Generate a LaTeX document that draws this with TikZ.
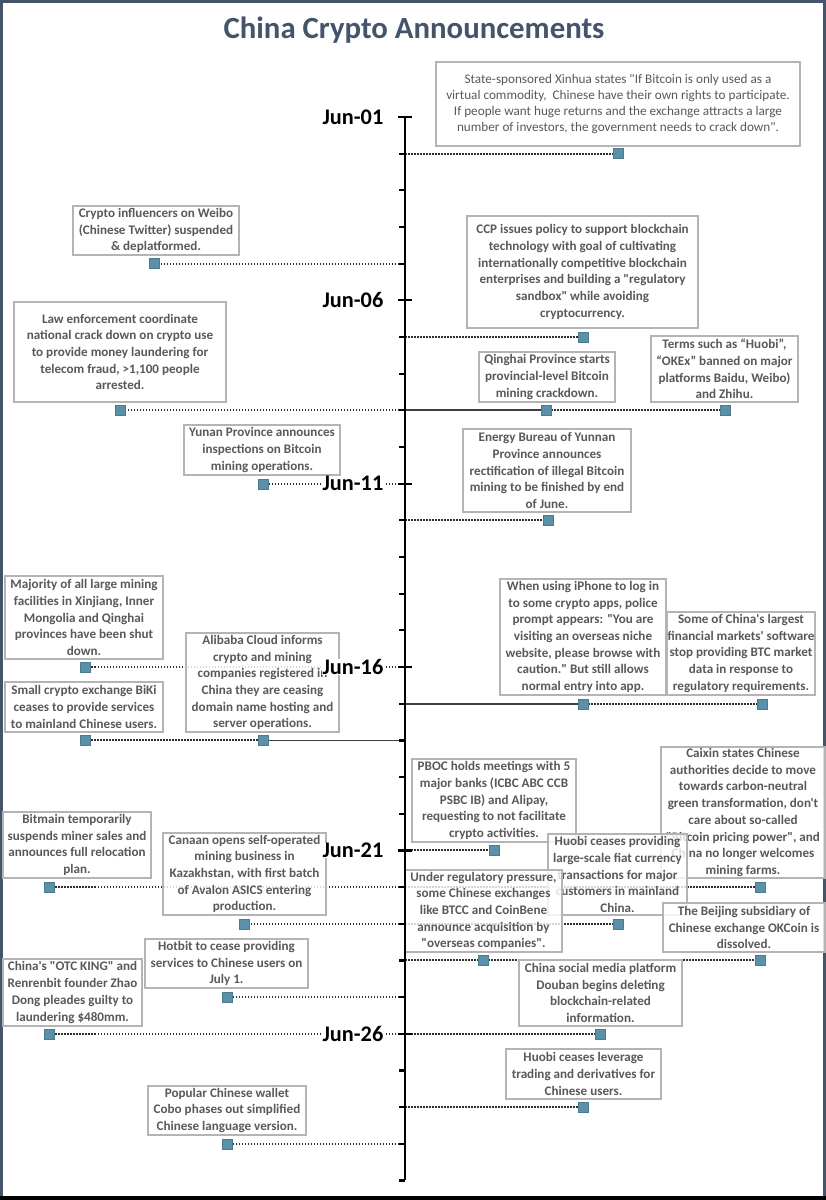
\documentclass[tikz,border=0pt]{standalone}
\usepackage{fontspec}
\setmainfont{Carlito}[Ligatures=TeXOff]
\usetikzlibrary{calc}
\definecolor{titlecol}{HTML}{44546A}
\definecolor{boxgray}{HTML}{B4B4B4}
\definecolor{txtgray}{HTML}{595959}
\definecolor{mkblue}{HTML}{5A91A8}
\definecolor{dotgray}{HTML}{2E2E2E}
\definecolor{solgray}{HTML}{3A4048}
\tikzset{
  evb/.style={draw=boxgray, line width=1.2pt, fill=white, fill opacity=0.8, text opacity=1, draw opacity=1,
    text=txtgray, font=\bfseries\fontsize{13.1}{16.7}\selectfont, align=center, inner sep=0pt},
  mk/.style={fill=mkblue, draw=mkblue!85!black, line width=0.4pt, minimum size=10pt, inner sep=0pt},
  mkghost/.style={minimum size=10pt, inner sep=0pt},
  dotln/.style={line width=1.9pt, dash pattern=on 1.5pt off 1.5pt, color=dotgray},
  solidln/.style={line width=1.8pt, color=solgray},
  datelbl/.style={font=\bfseries\fontsize{22.3}{26}\selectfont, text=black, fill=white, inner sep=0.5pt, anchor=east},
  axisln/.style={line width=2.6pt, color=black},
  tickln/.style={line width=2.2pt, color=black},
}
\begin{document}
\begin{tikzpicture}[x=1pt,y=-1pt]
\useasboundingbox (0,0) rectangle (826,1200);
\fill[white] (0,0) rectangle (826,1200);
% frame
\draw[titlecol, line width=3pt] (1.5,1.5) rectangle (824.5,1198.5);
\fill[black] (0,1196) rectangle (826,1200);
% title
\node[font=\bfseries\fontsize{30.8}{36}\selectfont, text=titlecol] (title) at (414,30) {China Crypto Announcements};
% axis day coordinates
\foreach \d in {1,...,30}{
  \pgfmathsetmacro\yy{117+36.67*(\d-1)}
  \coordinate (d\d) at (405,\yy);
}
% marker positions
\foreach \i/\x/\d in {1/618/2,2/154/5,3/583/7,4/120/9,5/546/9,6/725/9,7/263/11,8/548/12,9/85/16,10/263/18,11/85/18,12/583/17,13/762/17,14/494/21,15/49/22,16/760/22,17/244/23,18/618/23,19/483/24,20/760/24,21/227/25,22/49/26,23/600/26,24/583/28,25/227/29}{
  \pgfmathsetmacro\yy{117+36.67*(\d-1)}
  \node[mkghost] (m\i) at (\x,\yy) {};
}
% connectors
\draw[dotln] (d2) -- (m1);
\draw[dotln] (d5) -- (m2);
\draw[dotln] (d7) -- (m3);
\draw[dotln] (d9) -- (m4);
\draw[solidln] (d9) -- (m5);
\draw[dotln] (m5) -- (m6);
\draw[dotln] (d11) -- (m7);
\draw[dotln] (d12) -- (m8);
\draw[dotln] (d16) -- (m9);
\draw[solidln] (d18) -- (m10);
\draw[dotln] (m10) -- (m11);
\draw[solidln] (d17) -- (m12);
\draw[dotln] (m12) -- (m13);
\draw[dotln] (d21) -- (m14);
\draw[dotln] (d22) -- (m15);
\draw[dotln] (d22) -- (m16);
\draw[dotln] (d23) -- (m17);
\draw[dotln] (d23) -- (m18);
\draw[dotln] (d24) -- (m19);
\draw[dotln] (m19) -- (m20);
\draw[dotln] (d25) -- (m21);
\draw[dotln] (d26) -- (m22);
\draw[dotln] (d26) -- (m23);
\draw[dotln] (d28) -- (m24);
\draw[dotln] (d29) -- (m25);
% boxes
\node[evb, font=\fontsize{13.2}{15.8}\selectfont, minimum width=364pt, minimum height=84pt] (b1) at (618,104)
 {State-sponsored Xinhua states "If Bitcoin is only used as a\\virtual commodity,~ Chinese have their own rights to participate.\\If people want huge returns and the exchange attracts a large\\number of investors, the government needs to crack down".};
\node[evb, minimum width=166pt, minimum height=49pt] (b2) at (156,230.5)
 {Crypto influencers on Weibo\\(Chinese Twitter) suspended\\\& deplatformed.};
\node[evb, minimum width=231pt, minimum height=112pt] (b3) at (582.5,272)
 {CCP issues policy to support blockchain\\technology with goal of cultivating\\internationally competitive blockchain\\enterprises and building a "regulatory\\sandbox" while avoiding\\cryptocurrency.};
\node[evb, minimum width=212pt, minimum height=100pt] (b4) at (120,352)
 {Law enforcement coordinate\\national crack down on crypto use\\to provide money laundering for\\telecom fraud, >1,100 people\\arrested.};
\node[evb, minimum width=136pt, minimum height=50pt] (b5) at (547,377)
 {Qinghai Province starts\\provincial-level Bitcoin\\mining crackdown.};
\node[evb, minimum width=147pt, minimum height=66pt] (b6) at (724.5,369)
 {Terms such as “Huobi”,\\“OKEx” banned on major\\platforms Baidu, Weibo)\\and Zhihu.};
\node[evb, minimum width=156pt, minimum height=50pt] (b7) at (262,450)
 {Yunan Province announces\\inspections on Bitcoin\\mining operations.};
\node[evb, minimum width=168pt, minimum height=83pt] (b8) at (547,470.5)
 {Energy Bureau of Yunnan\\Province announces\\rectification of illegal Bitcoin\\mining to be finished by end\\of June.};
\node[evb, minimum width=158pt, minimum height=83pt] (b9) at (84,617.5)
 {Majority of all large mining\\facilities in Xinjiang, Inner\\Mongolia and Qinghai\\provinces have been shut\\down.};
\node[evb, minimum width=153pt, minimum height=99pt] (b10) at (262.5,682.5)
 {Alibaba Cloud informs\\crypto and mining\\companies registered in\\China they are ceasing\\domain name hosting and\\server operations.};
\node[evb, minimum width=158pt, minimum height=50pt] (b11) at (84,707)
 {Small crypto exchange BiKi\\ceases to provide services\\to mainland Chinese users.};
\node[evb, minimum width=166pt, minimum height=116pt] (b12) at (583,637)
 {When using iPhone to log in\\to some crypto apps, police\\prompt appears: "You are\\visiting an overseas niche\\website, please browse with\\caution." But still allows\\normal entry into app.};
\node[evb, minimum width=148pt, minimum height=83pt] (b13) at (741,653.5)
 {Some of China's largest\\financial markets' software\\stop providing BTC market\\data in response to\\regulatory requirements.};
\node[evb, minimum width=164pt, minimum height=83pt] (b14) at (494,800.5)
 {PBOC holds meetings with 5\\major banks (ICBC ABC CCB\\PSBC IB) and Alipay,\\requesting to not facilitate\\crypto activities.};
\node[evb, minimum width=148pt, minimum height=66pt] (b15) at (77,845)
 {Bitmain temporarily\\suspends miner sales and\\announces full relocation\\plan.};
\node[evb, minimum width=164pt, minimum height=131pt] (b16) at (743,812.5)
 {Caixin states Chinese\\authorities decide to move\\towards carbon-neutral\\green transformation, don't\\care about so-called\\"Bitcoin pricing power", and\\China no longer welcomes\\mining farms.};
\node[evb, minimum width=163pt, minimum height=82pt] (b17) at (244.5,874)
 {Canaan opens self-operated\\mining business in\\Kazakhstan, with first batch\\of Avalon ASICS entering\\production.};
\node[evb, minimum width=139pt, minimum height=81pt] (b18) at (617.5,874.5)
 {Huobi ceases providing\\large-scale fiat currency\\transactions for major\\customers in mainland\\China.};
\node[evb, minimum width=157pt, minimum height=82pt] (b19) at (483.5,911)
 {Under regulatory pressure,\\some Chinese exchanges\\like BTCC and CoinBene\\announce acquisition by\\"overseas companies".};
\node[evb, minimum width=162pt, minimum height=49pt] (b20) at (744,927.5)
 {The Beijing subsidiary of\\Chinese exchange OKCoin is\\dissolved.};
\node[evb, minimum width=163pt, minimum height=49pt] (b21) at (226.5,963.5)
 {Hotbit to cease providing\\services to Chinese users on\\July 1.};
\node[evb, minimum width=139pt, minimum height=67pt] (b22) at (72.5,992.5)
 {China's "OTC KING" and\\Renrenbit founder Zhao\\Dong pleades guilty to\\laundering \$480mm.};
\node[evb, minimum width=163pt, minimum height=66pt] (b23) at (600.5,993)
 {China social media platform\\Douban begins deleting\\blockchain-related\\information.};
\node[evb, minimum width=155pt, minimum height=50pt] (b24) at (583.5,1074)
 {Huobi ceases leverage\\trading and derivatives for\\Chinese users.};
\node[evb, minimum width=158pt, minimum height=49pt] (b25) at (227,1110.5)
 {Popular Chinese wallet\\Cobo phases out simplified\\Chinese language version.};
% axis and ticks
\draw[axisln] (d1) -- (d30);
\foreach \d in {2,...,30}{ \draw[tickln] ($(d\d)+(-6,0)$) -- (d\d); }
\foreach \d in {1,6,11,16,21,26}{ \draw[tickln] ($(d\d)+(-7,0)$) -- ($(d\d)+(7,0)$); }
% date labels
\foreach \d/\t in {1/01,6/06,11/11,16/16,21/21,26/26}{
  \node[datelbl] (lab\d) at ($(d\d)+(-21,0)$) {Jun-\t};
}
% markers on top
\foreach \i in {1,...,25}{
  \node[mk] (mm\i) at (m\i) {};
}
\end{tikzpicture}
\end{document}
